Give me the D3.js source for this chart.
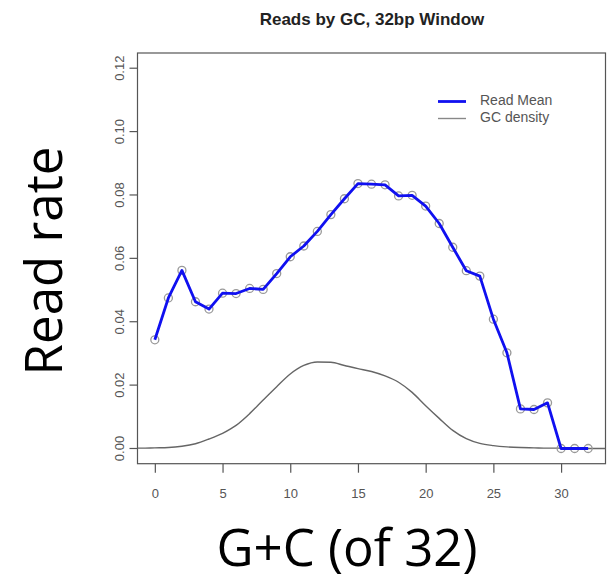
<!DOCTYPE html>
<html><head><meta charset="utf-8">
<script src="https://cdnjs.cloudflare.com/ajax/libs/d3/7.8.5/d3.min.js"></script>
<style>body{margin:0;background:#fff}svg{display:block}</style>
</head><body>
<script>
const gcCount = d3.range(0, 33);
const readMean = [0.0343,0.0475,0.0562,0.0463,0.0440,0.0490,0.0489,0.0505,0.0502,0.0552,
  0.0605,0.0639,0.0685,0.0738,0.0788,0.0836,0.0834,0.0832,0.0797,0.0799,
  0.0765,0.0710,0.0635,0.0561,0.0544,0.0408,0.0302,0.0125,0.0123,0.0144,
  0.0,0.0,0.0];
const densX = [-1.3,-1,0,1,2,3,4,5,6,7,8,9,10,11,12,13,14,15,16,17,18,19,20,21,22,23,24,25,26,27,28,29,30,31,32,33,33.3];
const densY = [0.0001,0.0001,0.0002,0.0003,0.0007,0.0015,0.0030,0.0048,0.0073,0.0110,0.0153,0.0195,0.0235,0.0262,0.0273,0.0272,0.0262,0.0252,0.0243,0.0229,0.0209,0.0177,0.0135,0.0095,0.0057,0.0031,0.0016,0.0009,0.0005,0.0003,0.0002,0.0001,0.0001,0,0,0,0];
const xTicks = [0,5,10,15,20,25,30];
const yTicks = [0,0.02,0.04,0.06,0.08,0.10,0.12];
const legendLabels = ["Read Mean","GC density"];

const W=609,H=582;
const svg=d3.select("body").append("svg").attr("width",W).attr("height",H);
const L=137.5,R=605.5,T=53,B=463.7;
const x=d3.scaleLinear().domain([-1.28,33.28]).range([L,R]);
const y=d3.scaleLinear().domain([-0.0048,0.1248]).range([B,T]);

svg.append("text").attr("x",372).attr("y",25).attr("text-anchor","middle")
  .attr("font-family","Liberation Sans, Arial, sans-serif").attr("font-weight","bold")
  .attr("font-size",17).attr("fill","#222").text("Reads by GC, 32bp Window");

// axes
const xa=svg.append("g").attr("transform",`translate(0,${B})`)
  .call(d3.axisBottom(x).tickValues(xTicks).tickSize(9).tickPadding(16).tickFormat(d3.format("d")));
const ya=svg.append("g").attr("transform",`translate(${L},0)`)
  .call(d3.axisLeft(y).tickValues(yTicks).tickSize(8).tickFormat(d3.format(".2f")));
[xa,ya].forEach(g=>{
  g.select(".domain").remove();
  g.selectAll("line").attr("stroke","#555").attr("stroke-width",1.2);
  g.selectAll("text").attr("font-family","Liberation Sans, Arial, sans-serif").attr("font-size",13).attr("fill","#555");
});
ya.selectAll("text").attr("text-anchor","middle").attr("dy",null)
  .attr("x",0).attr("y",0).attr("transform",function(d){return `translate(-17,${y(d)}) rotate(-90)`;})
  .attr("dominant-baseline","middle");
ya.selectAll(".tick").attr("transform","translate(0,0)");
ya.selectAll(".tick line").attr("y1",d=>y(d)).attr("y2",d=>y(d));

svg.append("rect").attr("x",L).attr("y",T).attr("width",R-L).attr("height",B-T)
  .attr("fill","none").attr("stroke","#555").attr("stroke-width",1.2);

svg.append("clipPath").attr("id","c").append("rect").attr("x",L).attr("y",T).attr("width",R-L).attr("height",B-T);
const plot=svg.append("g").attr("clip-path","url(#c)");

plot.append("path").datum(densX.map((v,i)=>[v,densY[i]]))
  .attr("d",d3.line().x(d=>x(d[0])).y(d=>y(d[1])).curve(d3.curveMonotoneX))
  .attr("fill","none").attr("stroke","#666").attr("stroke-width",1.4);

plot.selectAll("circle").data(gcCount).enter().append("circle")
  .attr("cx",d=>x(d)).attr("cy",(d,i)=>y(readMean[i])).attr("r",4)
  .attr("fill","none").attr("stroke","#999").attr("stroke-width",1.3);

plot.append("path").datum(gcCount.map((v,i)=>[v,readMean[i]]))
  .attr("d",d3.line().x(d=>x(d[0])).y(d=>y(d[1])))
  .attr("fill","none").attr("stroke","#1010f0").attr("stroke-width",2.8).attr("stroke-linejoin","round");

// legend
const lg=svg.append("g");
const lcol=["#1010f0","#888"], lw=[2.8,1.4];
legendLabels.forEach((t,i)=>{
  const yy=101.5+i*17;
  lg.append("line").attr("x1",438).attr("x2",466).attr("y1",yy).attr("y2",yy).attr("stroke",lcol[i]).attr("stroke-width",lw[i]);
  lg.append("text").attr("x",480).attr("y",yy).attr("dominant-baseline","middle")
    .attr("font-family","Liberation Sans, Arial, sans-serif").attr("font-size",14).attr("fill","#555").text(t);
});

svg.append("text").attr("transform","translate(62,261) rotate(-90)").attr("text-anchor","middle")
  .attr("font-family","Open Sans, sans-serif").attr("font-size",51).attr("fill","#000").text("Read rate");
svg.append("text").attr("x",347).attr("y",566).attr("text-anchor","middle")
  .attr("font-family","Open Sans, sans-serif").attr("font-size",51).attr("fill","#000").text("G+C (of 32)");
</script>
</body></html>
